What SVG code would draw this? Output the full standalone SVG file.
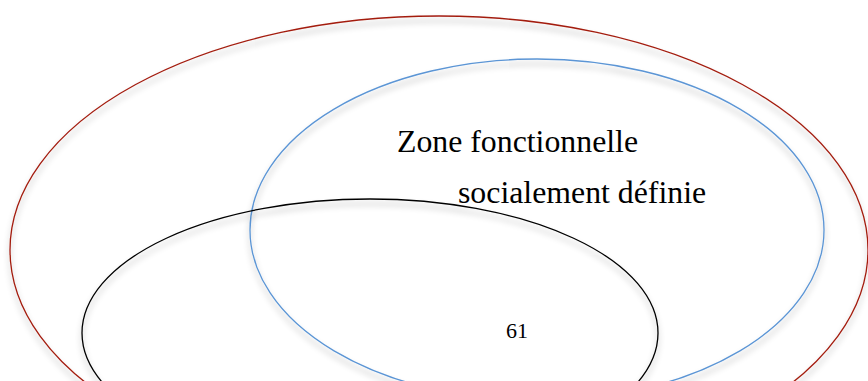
<svg xmlns="http://www.w3.org/2000/svg" width="868" height="381" viewBox="0 0 868 381">
<defs>
<filter id="sh" x="-10%" y="-10%" width="120%" height="130%">
<feGaussianBlur in="SourceAlpha" stdDeviation="3" result="b"/>
<feOffset in="b" dx="0" dy="5" result="o"/>
<feComponentTransfer in="o" result="s"><feFuncA type="linear" slope="0.35"/></feComponentTransfer>
<feMerge><feMergeNode in="s"/><feMergeNode in="SourceGraphic"/></feMerge>
</filter>
<style>
.e{fill:none;stroke-width:1.3;filter:url(#sh)}
.t{font-family:"Liberation Serif","Times New Roman",serif;fill:#000}
</style>
</defs>
<rect width="868" height="381" fill="#fff"/>
<g id="outer"><ellipse class="e" cx="439" cy="250" rx="429" ry="234" stroke="#a31c0f"/></g>
<g id="zone"><ellipse class="e" cx="537" cy="230" rx="287" ry="171" stroke="#5b95d5"/>
<text class="t" x="397" y="152" font-size="31.8">Zone fonctionnelle</text>
<text class="t" x="458" y="203" font-size="31.8">socialement définie</text></g>
<g id="inner"><ellipse class="e" cx="370" cy="333" rx="288" ry="134" stroke="#000"/>
<text class="t" x="506" y="338" font-size="22">61</text></g>
<g id="connectors"/>
</svg>
